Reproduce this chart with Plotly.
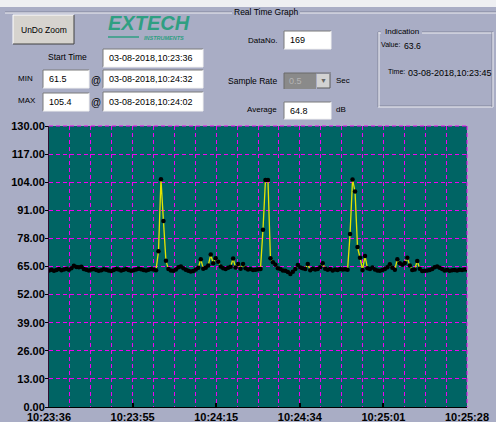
import plotly.graph_objects as go

# ---- data: sound level readings (dB), one per sample ----
levels = [
    63.2, 63.5, 63.0, 63.4, 63.8, 63.3, 63.6, 64.0, 63.5,
    64.2, 65.4, 64.8, 64.6, 64.9, 63.8,
    63.5, 63.2, 63.6, 63.9, 63.4, 63.0, 63.3, 63.7, 63.5, 63.1,
    62.9, 63.4, 63.8, 63.6, 63.2, 63.5, 63.9, 63.4, 63.0, 63.3,
    63.6, 64.0, 63.7, 63.4, 63.1, 63.5, 63.8, 63.6, 63.3,
    72.0, 105.4, 86.0, 67.7, 63.8,
    63.2, 63.0, 63.6, 64.6, 65.0, 64.2, 63.5, 63.0, 62.7, 62.9,
    63.6, 64.4, 68.4, 64.0, 64.4, 65.5, 70.5, 66.5, 68.8, 67.2,
    65.0, 64.2, 63.8, 64.4, 64.9, 68.7, 64.5, 66.2, 64.0, 66.2,
    64.2, 63.6, 63.8, 63.4, 63.5, 63.7, 63.9,
    82.0, 105.0, 105.0, 68.8, 67.0,
    65.8, 64.2, 63.8, 63.1, 63.0, 62.4, 61.5, 62.6, 63.8, 65.7,
    64.5, 64.2, 63.9, 66.2, 63.3, 64.0, 63.6, 63.8, 64.6, 66.5,
    64.0, 63.5, 63.8, 63.2, 63.6, 63.4, 63.9, 63.6, 63.7, 63.5,
    80.0, 105.2, 99.7, 74.0, 69.1, 63.4, 69.8,
    64.2, 63.8, 64.5, 63.6, 63.2, 63.0, 63.4, 63.8, 64.6, 66.0,
    64.4, 63.5, 68.4, 66.5, 65.8, 66.6, 69.1, 65.5, 63.4, 63.6,
    67.6, 64.0, 62.9, 63.0, 63.2, 63.4, 63.9, 64.6, 65.0, 64.4,
    63.8, 63.2, 63.5, 63.0, 63.3, 63.4, 63.2, 63.5, 63.4, 63.6,
    63.6,
]
time_labels = ["10:23:36", "10:23:55", "10:24:15", "10:24:34", "10:25:01", "10:25:28"]
y_ticks = [0, 13, 26, 39, 52, 65, 78, 91, 104, 117, 130]

n = len(levels)
x_idx = list(range(n))
last = n - 1
tick_pos = [last * k / (len(time_labels) - 1) for k in range(len(time_labels))]

# ---- window geometry (pixels) ----
W, H = 496, 422
L, R, T, B = 49, 467, 126, 407


def px(x):
    return (x - L) / (R - L)


def py(y):
    return (B - y) / (B - T)


PANEL = "#a9adc5"
TEAL = "#006464"
MAGENTA = "#f000f0"
FONT = "Liberation Sans, Arial, sans-serif"

fig = go.Figure()
fig.add_trace(go.Scatter(
    x=x_idx, y=levels, mode="lines+markers",
    line=dict(color="#e4e400", width=1.3),
    marker=dict(color="black", size=4.5, line=dict(width=0)),
    hoverinfo="skip", showlegend=False,
))

shapes = []
annots = []


def rect(x0, y0, x1, y1, fill=None, line=None, lw=1):
    shapes.append(dict(type="rect", xref="paper", yref="paper",
                       x0=px(x0), x1=px(x1), y0=py(y0), y1=py(y1),
                       fillcolor=fill or "rgba(0,0,0,0)",
                       line=dict(color=line or "rgba(0,0,0,0)", width=lw),
                       layer="above"))


def hline(x0, x1, y, color, w=1, dash="solid"):
    shapes.append(dict(type="line", xref="paper", yref="paper",
                       x0=px(x0), x1=px(x1), y0=py(y), y1=py(y),
                       line=dict(color=color, width=w, dash=dash), layer="above"))


def vline(x, y0, y1, color, w=1, dash="solid"):
    shapes.append(dict(type="line", xref="paper", yref="paper",
                       x0=px(x), x1=px(x), y0=py(y0), y1=py(y1),
                       line=dict(color=color, width=w, dash=dash), layer="above"))


def text(x, y, s, anchor="left", size=8, color="black", **font):
    annots.append(dict(xref="paper", yref="paper", x=px(x), y=py(y), text=s,
                       showarrow=False, xanchor=anchor, yanchor="middle",
                       font=dict(family=FONT, size=size, color=color, **font)))


def textbox(x0, y0, x1, y1, s):
    rect(x0, y0, x1, y1, fill="white")
    hline(x0, x1, y0, "#7a7a7a")
    vline(x0, y0, y1, "#7a7a7a")
    hline(x0, x1, y1, "#f2f2f2")
    vline(x1, y0, y1, "#f2f2f2")
    text(x0 + 4, (y0 + y1) / 2, s, size=9)


def etched_h(x0, x1, y):
    hline(x0, x1, y, "#80849a")
    hline(x0, x1, y + 1, "#f0f0f4")


def etched_v(x, y0, y1):
    vline(x, y0, y1, "#80849a")
    vline(x + 1, y0, y1, "#f0f0f4")


# light strip along the top edge
rect(0, 0, W, 7, fill="#eeeff2")

# "Real Time Graph" group frame
etched_h(5, 232, 12)
etched_h(300, W, 12)
text(266, 12, "Real Time Graph", anchor="center", size=8.5)

# UnDo Zoom button
rect(13, 15, 74, 44, fill="#d6d3ce")
hline(13, 74, 15, "white")
vline(13, 15, 44, "white")
hline(13, 74, 44, "#404040")
vline(74, 15, 44, "#404040")
text(43.5, 30, "UnDo Zoom", anchor="center", size=8.5)

# EXTECH logo
text(149, 23, "EXTECH", anchor="center", size=20, color="#2f9f82",
     weight="bold", style="italic")
hline(108, 139, 37, "#2f9f82", w=1.5)
text(164, 38.5, "INSTRUMENTS", anchor="center", size=5.5, color="#2f9f82",
     weight="bold", style="italic")

# start / min / max fields
text(67.5, 57, "Start Time", anchor="center", size=8.5)
textbox(103, 49, 203, 67, "03-08-2018,10:23:36")
text(25, 78, "MIN", anchor="center")
textbox(43, 70, 89, 88, "61.5")
text(95.5, 80, "@", anchor="center", size=10)
textbox(103, 70, 203, 88, "03-08-2018,10:24:32")
text(27, 101, "MAX", anchor="center")
textbox(43, 93, 89, 111, "105.4")
text(95.5, 102, "@", anchor="center", size=10)
textbox(103, 92, 203, 111, "03-08-2018,10:24:02")

# data count / sample rate / average
text(279, 40, "DataNo.", anchor="right")
textbox(284, 31, 331, 49, "169")
text(279, 81, "Sample Rate", anchor="right", size=8.5)
rect(284, 73, 316, 89, fill="#8a8a8a")
hline(284, 331, 73, "#6a6a6a")
vline(284, 73, 89, "#6a6a6a")
text(287, 81, "0.5", size=9, color="#b4b4b4")
rect(317, 74, 330, 88, fill="#d2d2d2")
hline(317, 330, 88, "#5a5a5a")
vline(330, 74, 88, "#5a5a5a")
text(323.5, 81, "\u25bc", anchor="center", size=7, color="#666666")
text(334, 81, "Sec")
text(279, 110, "Average", anchor="right")
textbox(284, 102, 331, 119, "64.8")
text(334, 110, "dB")

# Indication group
etched_h(378, 381, 32)
etched_h(422, 493, 32)
etched_h(378, 493, 106)
etched_v(378, 32, 107)
etched_v(492, 32, 107)
text(383, 32, "Indication")
text(379, 44, "Value:", size=7)
text(402, 46, "63.6", size=8.7)
text(386, 72, "Time:", size=7)
text(406, 73, "03-08-2018,10:23:45", size=9)

# plot frame edges
vline(R, T, B, MAGENTA, dash="4px,3px")
hline(L, R, T, MAGENTA, dash="4px,3px")

fig.update_layout(
    width=W, height=H,
    margin=dict(l=L, r=W - R, t=T, b=H - B, pad=0, autoexpand=False),
    paper_bgcolor=PANEL, plot_bgcolor=TEAL,
    template="none",
    showlegend=False,
    shapes=shapes, annotations=annots,
    xaxis=dict(
        range=[0, last], automargin=False, fixedrange=True,
        tickmode="array", tickvals=tick_pos, ticktext=time_labels,
        ticks="inside", ticklen=4, tickwidth=2, tickcolor="black",
        showline=True, linecolor="black", linewidth=1,
        showgrid=True, gridcolor=MAGENTA, gridwidth=1, griddash="4px,3px",
        minor=dict(dtick=last / 20, tick0=0, showgrid=True, gridcolor=MAGENTA,
                   gridwidth=1, griddash="4px,3px", ticks=""),
        zeroline=False,
        tickfont=dict(family=FONT, size=11, color="black", weight="bold"),
    ),
    yaxis=dict(
        range=[0, 130], automargin=False, fixedrange=True,
        tickmode="array", tickvals=y_ticks, tickformat=".2f",
        ticks="outside", ticklen=3, tickwidth=1, tickcolor="black",
        ticklabelstandoff=-2,
        showline=True, linecolor="#301030", linewidth=1,
        showgrid=True, gridcolor=MAGENTA, gridwidth=1, griddash="4px,3px",
        zeroline=False,
        tickfont=dict(family=FONT, size=11, color="black", weight="bold"),
    ),
)

fig.write_html("out.html")
